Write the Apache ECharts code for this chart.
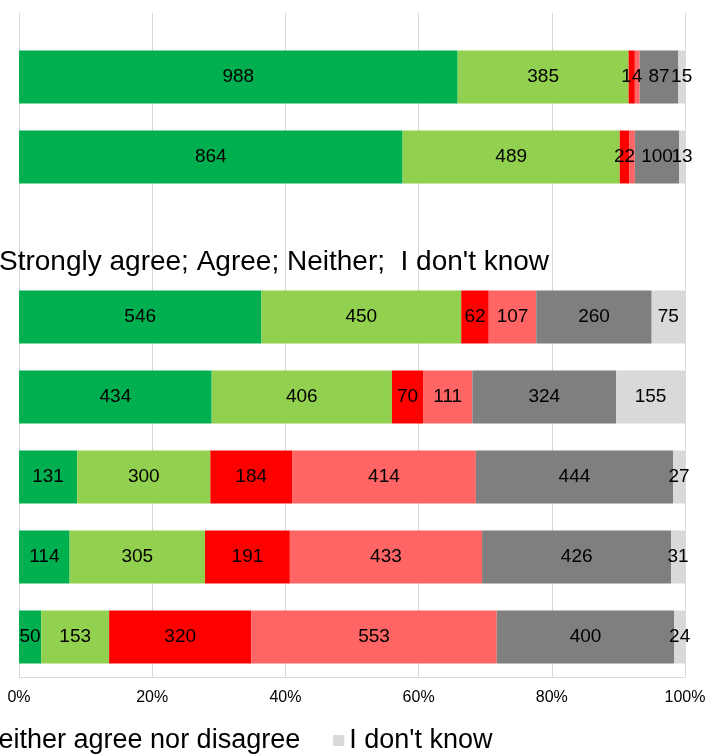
<!DOCTYPE html>
<html><head><meta charset="utf-8">
<script src="https://cdn.jsdelivr.net/npm/echarts@6/dist/echarts.min.js"></script>
<style>html,body{margin:0;padding:0;background:#fff}#c{width:709px;height:754px}</style>
</head><body><div id="c"></div><script>
// ---- data ----
const categories = ['Q1', 'Q2', '', 'Q3', 'Q4', 'Q5', 'Q6', 'Q7'];
const stronglyAgree    = [988, 864, null, 546, 434, 131, 114, 50];
const agree            = [385, 489, null, 450, 406, 300, 305, 153];
const stronglyDisagree = [14, 22, null, 62, 70, 184, 191, 320];
const disagree         = [11, 12, null, 107, 111, 414, 433, 553];
const neither          = [87, 100, null, 260, 324, 444, 426, 400];
const dontKnow         = [15, 13, null, 75, 155, 27, 31, 24];
const seriesNames = ['Strongly agree', 'Agree', 'Strongly disagree', 'Disagree', 'Neither agree nor disagree', "I don't know"];
const seriesColors = ['#00b050', '#92d050', '#ff0000', '#ff6565', '#7f7f7f', '#d9d9d9'];
const tickLabels = ['0%', '20%', '40%', '60%', '80%', '100%'];
const subtitle = "Strongly agree; Agree; Neither;  I don't know";
const legendShown = ['Neither agree nor disagree', "I don't know"];
const hiddenLabels = [[3, 0], [3, 1]]; // labels hidden by overlap in the original

const rows = [stronglyAgree, agree, stronglyDisagree, disagree, neither, dontKnow];
const totals = categories.map((c, i) => rows.reduce((s, r) => s + (r[i] || 0), 0));
const FONT = 'Liberation Sans, Arial, sans-serif';

const series = rows.map((r, si) => ({
  name: seriesNames[si],
  type: 'bar',
  stack: 'all',
  xAxisIndex: 0, yAxisIndex: 0,
  barWidth: 53,
  itemStyle: { color: seriesColors[si] },
  label: {
    show: true, position: 'inside', color: '#000', fontSize: 19, fontFamily: FONT,
    formatter: p => String(r[p.dataIndex])
  },
  data: r.map((v, i) => {
    if (v == null) return '-';
    const item = { value: v / totals[i] * 100 };
    if (hiddenLabels.some(h => h[0] === si && h[1] === i)) item.label = { show: false };
    return item;
  })
}));

const chart = echarts.init(document.getElementById('c'), null, { renderer: 'canvas' });
chart.setOption({
  animation: false,
  backgroundColor: '#fff',
  title: {
    text: subtitle, left: -1, top: 248, padding: 0,
    textStyle: { fontSize: 28, fontWeight: 'normal', color: '#000', fontFamily: FONT }
  },
  legend: {
    data: legendShown, left: -37, top: 727, padding: 0,
    icon: 'rect', itemWidth: 11, itemHeight: 11, itemGap: 33,
    textStyle: { fontSize: 27, color: '#000', fontFamily: FONT }
  },
  grid: [
    { left: 19, right: 24, top: 37, bottom: 77 },
    { left: 19, right: 24, top: 13, height: 24 }
  ],
  xAxis: [
    {
      gridIndex: 0, type: 'value', min: 0, max: 100, interval: 20,
      axisLine: { show: true, lineStyle: { color: '#d9d9d9', width: 1 } },
      axisTick: { show: false },
      axisLabel: {
        margin: 13, fontSize: 16, color: '#000', fontFamily: FONT,
        formatter: v => tickLabels[Math.round(v / 20)]
      },
      splitLine: { show: true, lineStyle: { color: '#d9d9d9', width: 1 } }
    },
    {
      gridIndex: 1, type: 'value', min: 0, max: 100, interval: 20,
      axisLine: { show: false }, axisTick: { show: false }, axisLabel: { show: false },
      splitLine: { show: true, lineStyle: { color: '#d9d9d9', width: 1 } }
    }
  ],
  yAxis: [
    {
      gridIndex: 0, type: 'category', data: categories, inverse: true,
      axisLine: { show: false }, axisTick: { show: false }, axisLabel: { show: false },
      splitLine: { show: false }
    },
    {
      gridIndex: 1, type: 'category', data: ['x'],
      axisLine: { show: false }, axisTick: { show: false }, axisLabel: { show: false },
      splitLine: { show: false }
    }
  ],
  series: series
});
</script></body></html>
